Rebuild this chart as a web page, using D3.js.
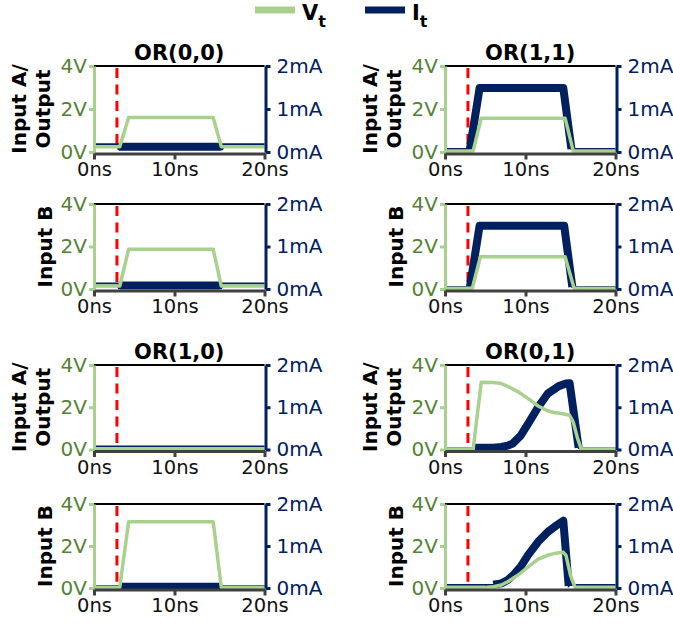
<!DOCTYPE html>
<html><head><meta charset="utf-8">
<script src="https://cdn.jsdelivr.net/npm/d3@7"></script>
<style>body{margin:0;background:#fff} svg text{font-family:"DejaVu Sans",sans-serif}</style>
</head><body><svg id="c" width="673" height="624"></svg>
<script>
// ---------- data ----------
const titles = ["OR(0,0)", "OR(1,1)", "OR(1,0)", "OR(0,1)"];
const yTitleA = ["Input A/", "Output"];
const yTitleB = ["Input B"];
const xTicks = [0, 10, 20];
const vTicks = [0, 2, 4];
const iTicks = [0, 1, 2];
const legendNames = ["V", "I"];
const markerTime = 2.85;

// OR(0,0) Input A / Output
const or00A_tV = [0, 3.2, 4.3, 14.3, 15.2, 20];
const or00A_V  = [0.25, 0.25, 1.6, 1.6, 0.25, 0.25];
const or00A_tI = [0, 3.2, 3.3, 15.1, 15.2, 20];
const or00A_I  = [0.18, 0.18, 0.12, 0.12, 0.18, 0.18];
const or00A_on = [3.2, 15.2];
// OR(0,0) Input B
const or00B_tV = [0, 3.2, 4.3, 14.3, 15.2, 20];
const or00B_V  = [0.14, 0.14, 1.87, 1.87, 0.14, 0.14];
const or00B_tI = [0, 3.2, 3.3, 15.0, 15.1, 20];
const or00B_I  = [0.13, 0.13, 0.08, 0.08, 0.13, 0.13];
const or00B_on = [3.2, 15.1];
// OR(1,1) Input A / Output
const or11A_tV = [0, 3.5, 4.5, 14.4, 15.3, 20];
const or11A_V  = [0.05, 0.05, 1.57, 1.57, 0.05, 0.05];
const or11A_tI = [0, 3.1, 4.3, 14.2, 15.1, 20];
const or11A_I  = [0.07, 0.07, 1.49, 1.49, 0.07, 0.07];
const or11A_on = [3.1, 15.1];
// OR(1,1) Input B
const or11B_tV = [0, 3.4, 4.4, 14.4, 15.4, 20];
const or11B_V  = [0.04, 0.04, 1.52, 1.52, 0.04, 0.04];
const or11B_tI = [0, 3.1, 4.3, 14.3, 15.2, 20];
const or11B_I  = [0.05, 0.05, 1.49, 1.49, 0.05, 0.05];
const or11B_on = [3.1, 15.2];
// OR(1,0) Input A / Output
const or10A_tV = [0, 20];
const or10A_V  = [0.04, 0.04];
const or10A_tI = [0, 20];
const or10A_I  = [0.07, 0.07];
const or10A_on = null;
// OR(1,0) Input B
const or10B_tV = [0, 3.2, 4.3, 14.3, 15.2, 20];
const or10B_V  = [0.03, 0.03, 3.15, 3.15, 0.03, 0.03];
const or10B_tI = [0, 3.3, 3.4, 15.0, 15.1, 20];
const or10B_I  = [0.05, 0.05, 0.03, 0.03, 0.05, 0.05];
const or10B_on = [3.3, 15.1];
// OR(0,1) Input A / Output
const or01A_tV = [0, 3.5, 4.5, 6, 7, 8, 9.1, 10.3, 11.4, 12.5, 13.3, 14, 14.9, 15.3, 15.8, 16.2, 20];
const or01A_V  = [0.02, 0.02, 3.18, 3.17, 3.12, 2.95, 2.73, 2.41, 2.06, 1.82, 1.74, 1.7, 1.62, 1.3, 0.5, 0.02, 0.02];
const or01A_tI = [0, 3.6, 3.7, 5, 6, 7, 7.8, 8.4, 9.4, 10.4, 11.4, 12.5, 13.7, 14.5, 14.9, 15.9, 16, 20];
const or01A_I  = [0.03, 0.03, 0.04, 0.04, 0.04, 0.06, 0.09, 0.14, 0.33, 0.65, 1.0, 1.33, 1.5, 1.56, 1.57, 0.04, 0.03, 0.03];
const or01A_on = [3.7, 15.9];
// OR(0,1) Input B
const or01B_tV = [0, 5, 6, 7, 7.8, 8.6, 9.1, 10.3, 11.4, 12.5, 13.3, 14.2, 14.5, 15.0, 15.5, 20];
const or01B_V  = [0.03, 0.03, 0.06, 0.14, 0.3, 0.5, 0.62, 1.01, 1.37, 1.57, 1.65, 1.7, 1.55, 0.6, 0.03, 0.03];
const or01B_tI = [0, 5, 6, 7, 7.8, 8.6, 9.4, 10.3, 11.4, 12.5, 13.5, 14.2, 14.8, 14.9, 20];
const or01B_I  = [0.07, 0.07, 0.08, 0.11, 0.19, 0.33, 0.51, 0.79, 1.1, 1.34, 1.5, 1.6, 0.05, 0.07, 0.07];
const or01B_on = [6, 14.8];

// ---------- layout ----------
const GREEN = "#a9d18e", GREEN_TXT = "#548235", NAVY = "#002060", RED = "#ff0000", GRAY = "#404040";
const colX0 = [94, 445], plotW = 170.5, midW = 80.5;
const rowY = [[66, 152], [204, 289], [365, 449.5], [504, 588]];

const panels = [
  {col:0,row:0,title:titles[0],yt:yTitleA,tV:or00A_tV,V:or00A_V,tI:or00A_tI,I:or00A_I,on:or00A_on},
  {col:0,row:1,title:null,yt:yTitleB,tV:or00B_tV,V:or00B_V,tI:or00B_tI,I:or00B_I,on:or00B_on},
  {col:1,row:0,title:titles[1],yt:yTitleA,tV:or11A_tV,V:or11A_V,tI:or11A_tI,I:or11A_I,on:or11A_on},
  {col:1,row:1,title:null,yt:yTitleB,tV:or11B_tV,V:or11B_V,tI:or11B_tI,I:or11B_I,on:or11B_on},
  {col:0,row:2,title:titles[2],yt:yTitleA,tV:or10A_tV,V:or10A_V,tI:or10A_tI,I:or10A_I,on:or10A_on},
  {col:0,row:3,title:null,yt:yTitleB,tV:or10B_tV,V:or10B_V,tI:or10B_tI,I:or10B_I,on:or10B_on},
  {col:1,row:2,title:titles[3],yt:yTitleA,tV:or01A_tV,V:or01A_V,tI:or01A_tI,I:or01A_I,on:or01A_on},
  {col:1,row:3,title:null,yt:yTitleB,tV:or01B_tV,V:or01B_V,tI:or01B_tI,I:or01B_I,on:or01B_on},
];

const svg = d3.select("#c");

function styleAxis(g, color, txtColor, fs) {
  g.attr("font-family", null).attr("font-size", null);
  g.select(".domain").attr("stroke", color).attr("stroke-width", 3);
  g.selectAll(".tick line").attr("stroke", color).attr("stroke-width", 3);
  g.selectAll(".tick text").attr("fill", txtColor).style("font-size", fs + "px");
}

panels.forEach(p => {
  const x0 = colX0[p.col];
  const [yTop, yBot] = rowY[p.row];
  const x = d3.scaleLinear().domain(xTicks).range([x0, x0 + midW, x0 + plotW]);
  const yV = d3.scaleLinear().domain([0, 4]).range([yBot, yTop]);
  const yI = d3.scaleLinear().domain([0, 2]).range([yBot, yTop]);
  const g = svg.append("g");

  g.append("line").attr("x1", x(0)).attr("x2", x(20)).attr("y1", yV(4)).attr("y2", yV(4))
    .attr("stroke", "#000").attr("stroke-width", 2);

  g.append("line").attr("x1", x(markerTime)).attr("x2", x(markerTime))
    .attr("y1", yV(4) + 2).attr("y2", yV(0.3))
    .attr("stroke", RED).attr("stroke-width", 3).attr("stroke-dasharray", "10,6.5");

  const ptsV = p.tV.map((t, i) => [t, p.V[i]]);
  const ptsI = p.tI.map((t, i) => [t, p.I[i]]);
  const lineV = d3.line().x(d => x(d[0])).y(d => yV(d[1]));
  const lineI = d3.line().x(d => x(d[0])).y(d => yI(d[1]));

  g.append("path").attr("d", lineI(ptsI)).attr("fill", "none")
    .attr("stroke", NAVY).attr("stroke-width", 2);
  if (p.on) {
    const on = ptsI.filter(d => d[0] >= p.on[0] && d[0] <= p.on[1]);
    g.append("path").attr("d", lineI(on)).attr("fill", "none")
      .attr("stroke", NAVY).attr("stroke-width", 8)
      .attr("stroke-linejoin", "round");
  }
  g.append("path").attr("d", lineV(ptsV)).attr("fill", "none")
    .attr("stroke", GREEN).attr("stroke-width", 3.5).attr("stroke-linejoin", "round");

  const ax = g.append("g").attr("transform", `translate(${x0},0)`)
    .call(d3.axisLeft(yV).tickValues(vTicks).tickFormat(d => d + "V").tickSize(5).tickSizeOuter(0).tickPadding(2));
  styleAxis(ax, GREEN, GREEN_TXT, 20);
  const ar = g.append("g").attr("transform", `translate(${x0 + plotW + 1},0)`)
    .call(d3.axisRight(yI).tickValues(iTicks).tickFormat(d => d + "mA").tickSize(5).tickSizeOuter(0).tickPadding(6));
  styleAxis(ar, NAVY, NAVY, 20);
  const ab = g.append("g").attr("transform", `translate(0,${yBot + 1.5})`)
    .call(d3.axisBottom(x).tickValues(xTicks).tickFormat(d => d + "ns").tickSize(6).tickSizeOuter(0).tickPadding(3));
  styleAxis(ab, GRAY, "#111", 19.5);

  if (p.title) {
    g.append("text").attr("x", x0 + plotW / 2).attr("y", yTop - 13)
      .attr("text-anchor", "middle").attr("dominant-baseline", "central")
      .attr("font-weight", "bold").style("font-size", "21px").attr("fill", "#000").text(p.title);
  }
  const yc = (yTop + yBot) / 2;
  const offs = p.yt.length === 2 ? [-75, -51] : [-49];
  p.yt.forEach((s, i) => {
    g.append("text").attr("transform", `translate(${x0 + offs[i]},${yc}) rotate(-90)`)
      .attr("text-anchor", "middle").attr("dominant-baseline", "central")
      .attr("font-weight", "bold").style("font-size", "20px").attr("fill", "#000").text(s);
  });
});

const legItems = [{name: legendNames[0], color: GREEN, x: 255}, {name: legendNames[1], color: NAVY, x: 365}];
legItems.forEach(d => {
  svg.append("line").attr("x1", d.x).attr("x2", d.x + 40).attr("y1", 10).attr("y2", 10)
    .attr("stroke", d.color).attr("stroke-width", 7);
  const t = svg.append("text").attr("x", d.x + 47).attr("y", 20)
    .attr("font-weight", "bold").style("font-size", "21px").attr("fill", "#000");
  t.append("tspan").text(d.name);
  t.append("tspan").attr("dy", 7).style("font-size", "16px").text("t");
});
</script></body></html>
